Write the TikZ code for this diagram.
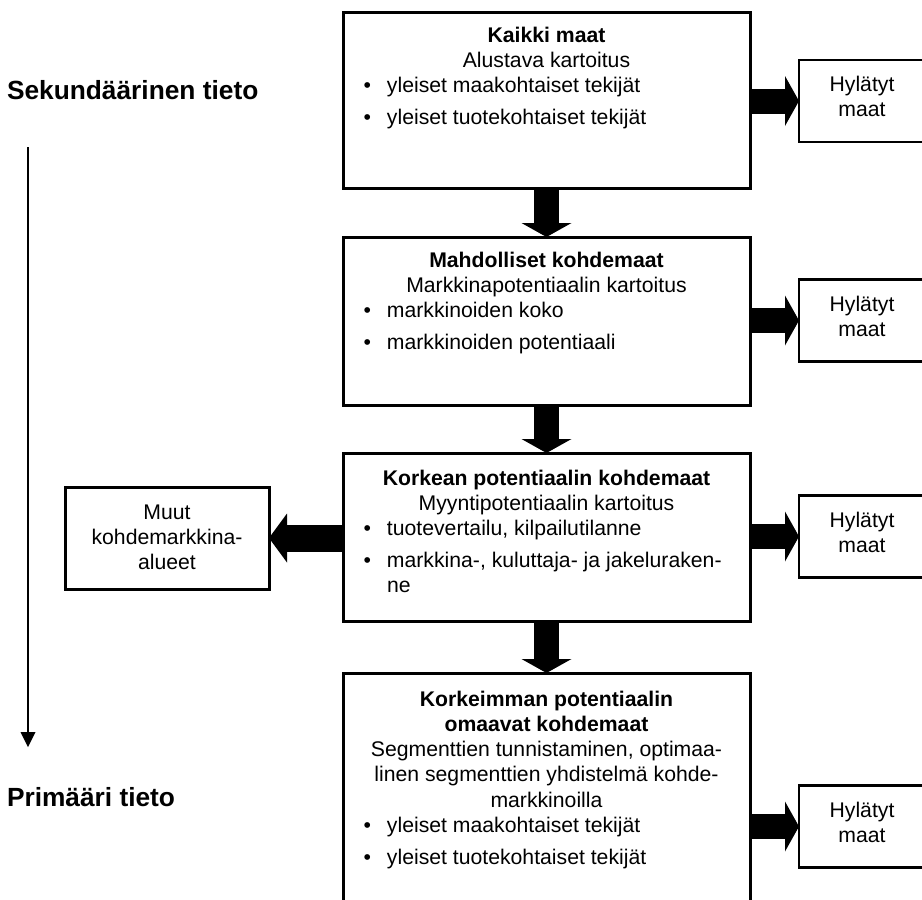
\documentclass[tikz,border=0pt]{standalone}
\usepackage{fontspec}
\setmainfont{Liberation Sans}
\usetikzlibrary{arrows.meta}
\newcommand{\bitem}[1]{{\leftskip=44pt\rightskip=0pt plus 1fil\parfillskip=0pt plus 1fil\noindent\llap{\textbullet\hskip16pt}#1\par}\vskip6.5pt}
\newcommand{\ctr}[1]{{\centering #1\par}}
\newcommand{\tblock}[2]{\vtop{\hsize=#1\parindent=0pt\parskip=0pt\baselineskip=25.3pt\lineskiplimit=-20pt #2}}
\tikzset{
  bigbox/.style={draw, line width=3pt, minimum width=407pt, inner sep=0pt, outer sep=0pt},
  rbox/.style={draw, line width=2.5pt, minimum width=126pt, minimum height=82pt, inner sep=0pt, outer sep=0pt},
  mbox/.style={draw, line width=3pt, minimum width=204pt, minimum height=102pt, inner sep=0pt, outer sep=0pt},
  txt/.style={inner sep=0pt, outer sep=0pt, anchor=base west, font=\fontsize{21.2pt}{25.3pt}\selectfont},
  lbl/.style={inner sep=0pt, outer sep=0pt, anchor=base west, font=\fontsize{26.3pt}{30pt}\selectfont\bfseries},
  fat/.style={line width=25pt, -{Triangle[width=50pt,length=14pt,line width=0pt]}},
  fatleft/.style={line width=27pt, -{Triangle[width=49pt,length=18pt,line width=0pt]}},
  thin/.style={line width=1.7pt, -{Triangle[width=15pt,length=15pt,line width=0pt]}}
}
\begin{document}
\begin{tikzpicture}[x=1pt,y=-1pt]
\useasboundingbox (0,0) rectangle (922,900);
\fill[white] (0,0) rectangle (922,900);
\clip (0,0) rectangle (922,900);

% main boxes
\node[bigbox, minimum height=176pt] (b1) at (546.5,100) {};
\node[bigbox, minimum height=168pt] (b2) at (546.5,321) {};
\node[bigbox, minimum height=168pt] (b3) at (546.5,537) {};
\node[bigbox, minimum height=237pt] (b4) at (546.5,791.5) {};

% rejected boxes
\node[rbox] (r1) at (862,101) {};
\node[rbox] (r2) at (862,320.5) {};
\node[rbox] (r3) at (862,536.5) {};
\node[rbox] (r4) at (862,826.5) {};

% other target markets
\node[mbox] (mu) at (167,538) {};

% texts of main boxes
\node[txt] (t1) at (343,42) {\tblock{407pt}{%
  \ctr{\bfseries Kaikki maat}%
  \ctr{Alustava kartoitus}%
  \bitem{yleiset maakohtaiset tekijät}%
  \bitem{yleiset tuotekohtaiset tekijät}}};
\node[txt] (t2) at (343,267) {\tblock{407pt}{%
  \ctr{\bfseries Mahdolliset kohdemaat}%
  \ctr{Markkinapotentiaalin kartoitus}%
  \bitem{markkinoiden koko}%
  \bitem{markkinoiden potentiaali}}};
\node[txt] (t3) at (343,485) {\tblock{407pt}{%
  \ctr{\bfseries Korkean potentiaalin kohdemaat}%
  \ctr{Myyntipotentiaalin kartoitus}%
  \bitem{tuotevertailu, kilpailutilanne}%
  \bitem{markkina-, kuluttaja- ja jakeluraken-\newline ne}}};
\node[txt] (t4) at (343,706) {\tblock{407pt}{%
  \ctr{\bfseries Korkeimman potentiaalin\\omaavat kohdemaat}%
  \ctr{Segmenttien tunnistaminen, optimaa-\\linen segmenttien yhdistelmä kohde-\\markkinoilla}%
  \bitem{yleiset maakohtaiset tekijät}%
  \bitem{yleiset tuotekohtaiset tekijät}}};

% texts of side boxes
\node[txt] (rt1) at (799,91.5) {\tblock{126pt}{\ctr{Hylätyt\\maat}}};
\node[txt] (rt2) at (799,311) {\tblock{126pt}{\ctr{Hylätyt\\maat}}};
\node[txt] (rt3) at (799,527) {\tblock{126pt}{\ctr{Hylätyt\\maat}}};
\node[txt] (rt4) at (799,817) {\tblock{126pt}{\ctr{Hylätyt\\maat}}};
\node[txt] (mut) at (65,519) {\tblock{204pt}{\ctr{Muut\\kohdemarkkina-\\alueet}}};

% side labels
\node[lbl] (sek) at (7,99) {Sekundäärinen tieto};
\node[lbl] (prim) at (7,806) {Primääri tieto};

% connectors
\draw[fat] (b1.south) -- (b2.north);
\draw[fat] (b2.south) -- (b3.north);
\draw[fat] (b3.south) -- (b4.north);
\draw[fat] (b1.east |- r1.west) -- (r1.west);
\draw[fat] (b2.east |- r2.west) -- (r2.west);
\draw[fat] (b3.east |- r3.west) -- (r3.west);
\draw[fat] (b4.east |- r4.west) -- (r4.west);
\draw[fatleft] (b3.west |- mu.east) -- (mu.east);

\coordinate (ftop) at (28,147);
\coordinate (fbot) at (28,747);
\draw[thin] (ftop) -- (fbot);
\end{tikzpicture}
\end{document}
